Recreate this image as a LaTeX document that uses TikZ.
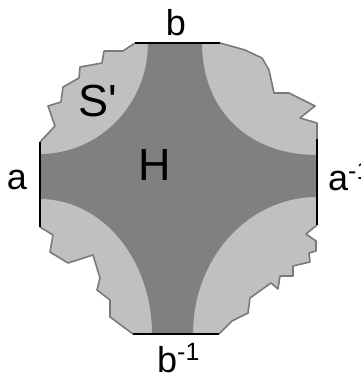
\documentclass[tikz,border=0pt]{standalone}
\usepackage{fontspec}
\setmainfont{Liberation Sans}
\begin{document}
\begin{tikzpicture}[x=1pt,y=-1pt,
  lightfill/.style={fill=light},
  darkfill/.style={fill=dark},
  jag/.style={draw=rim,line width=1.6pt,line join=round},
  edge/.style={draw=black,line width=2.6pt},
  lab/.style={inner sep=0pt,font=\fontsize{36}{36}\selectfont},
  big/.style={inner sep=0pt,font=\fontsize{45}{45}\selectfont}]
\definecolor{light}{HTML}{C0C0C0}
\definecolor{dark}{HTML}{808080}
\definecolor{rim}{HTML}{7A7A7A}
\useasboundingbox (0,0) rectangle (361,375);
% edge end points
\coordinate (bL) at (135,43);
\coordinate (bR) at (220,43);
\coordinate (aiT) at (317,139);
\coordinate (aiB) at (317,225);
\coordinate (biR) at (219,334);
\coordinate (biL) at (133,334);
\coordinate (aB) at (40,227);
\coordinate (aT) at (40,142);
% light region (whole outline)
\fill[lightfill] (bL) -- (bR) -- (245,50) -- (262,58) -- (269,70) -- (274,93) -- (289,93) -- (315,106) -- (300,118) -- (317,123) -- (aiT)
  -- (aiB) -- (306,234) -- (316,241) -- (316,251) -- (309,253) -- (310,262) -- (293,266) -- (293,276) -- (280,276) -- (278,289) -- (271,283) -- (250,298) -- (248,313) -- (232,321) -- (biR)
  -- (biL) -- (110,317) -- (110,300) -- (97,290) -- (100,278) -- (93,255) -- (68,263) -- (50,252) -- (53,235) -- (aB)
  -- (aT) -- (55,126) -- (48,106) -- (61,102) -- (63,87) -- (79,78) -- (80,67) -- (102,63) -- (104,51) -- (123,51) -- cycle;
% dark region H
\fill[darkfill] (148,43) -- (202,43) .. controls (202,110) and (248,155) .. (317,155) -- (317,197)
  .. controls (248,197) and (193,258) .. (193,334) -- (152,334)
  .. controls (152,259) and (102,199) .. (40,199) -- (40,154)
  .. controls (100,154) and (148,104) .. (148,43) -- cycle;
% jagged rims
\draw[jag] (bR) -- (245,50) -- (262,58) -- (269,70) -- (274,93) -- (289,93) -- (315,106) -- (300,118) -- (317,123) -- (aiT);
\draw[jag] (aiB) -- (306,234) -- (316,241) -- (316,251) -- (309,253) -- (310,262) -- (293,266) -- (293,276) -- (280,276) -- (278,289) -- (271,283) -- (250,298) -- (248,313) -- (232,321) -- (biR);
\draw[jag] (biL) -- (110,317) -- (110,300) -- (97,290) -- (100,278) -- (93,255) -- (68,263) -- (50,252) -- (53,235) -- (aB);
\draw[jag] (aT) -- (55,126) -- (48,106) -- (61,102) -- (63,87) -- (79,78) -- (80,67) -- (102,63) -- (104,51) -- (123,51) -- (bL);
% black edges
\draw[edge] (bL) -- (bR);
\draw[edge] (aiT) -- (aiB);
\draw[edge] (biL) -- (biR);
\draw[edge] (aT) -- (aB);
% labels
\node[lab] (lb) at (176,23) {b};
\node[lab] (la) at (17,180) {a};
\node[lab,anchor=base west] (lai) at (328,190) {a\raisebox{11pt}{\fontsize{25}{25}\selectfont -1}};
\node[lab,anchor=base west] (lbi) at (157,372) {b\raisebox{12pt}{\fontsize{25}{25}\selectfont -1}};
\node[big] (lH) at (155,165) {H};
\node[big] (lS) at (98,101) {S\textquotesingle};
\end{tikzpicture}
\end{document}
